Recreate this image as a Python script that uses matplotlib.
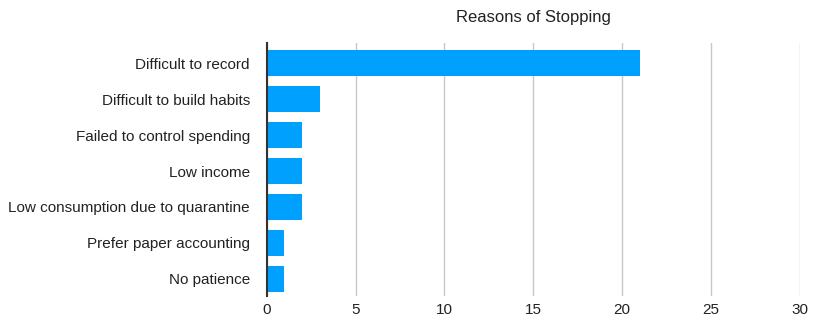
import matplotlib.pyplot as plt

categories = ["Difficult to record", "Difficult to build habits", "Failed to control spending",
              "Low income", "Low consumption due to quarantine", "Prefer paper accounting",
              "No patience"]
counts = [21, 3, 2, 2, 2, 1, 1]
xticks = [0, 5, 10, 15, 20, 25, 30]

plt.rcParams['font.family'] = ['Liberation Sans', 'DejaVu Sans']

fig = plt.figure(figsize=(8.13, 3.2), dpi=100)
ax = fig.add_axes([0.328, 0.075, 0.656, 0.79])

ypos = list(range(len(categories)))
ax.barh(ypos, counts, height=0.72, color='#00a0ff', zorder=3)
ax.set_yticks(ypos)
ax.set_yticklabels(categories, fontsize=11, color='#222222')
ax.set_ylim(6.48, -0.56)
ax.set_xlim(0, 30)
ax.set_xticks(xticks)
ax.set_xticklabels([str(t) for t in xticks], fontsize=11, color='#222222')
ax.grid(axis='x', color='#c8c8c8', lw=1, zorder=0)
for s in ['top', 'right', 'bottom']:
    ax.spines[s].set_visible(False)
ax.spines['left'].set_color('#333333')
ax.spines['left'].set_linewidth(1.5)
ax.spines['left'].set_zorder(4)
ax.tick_params(axis='y', length=0, pad=12)
ax.tick_params(axis='x', length=0, pad=5)
ax.set_title("Reasons of Stopping", fontsize=12, pad=15, color='#222222')

fig.savefig("out.png", dpi=100)
